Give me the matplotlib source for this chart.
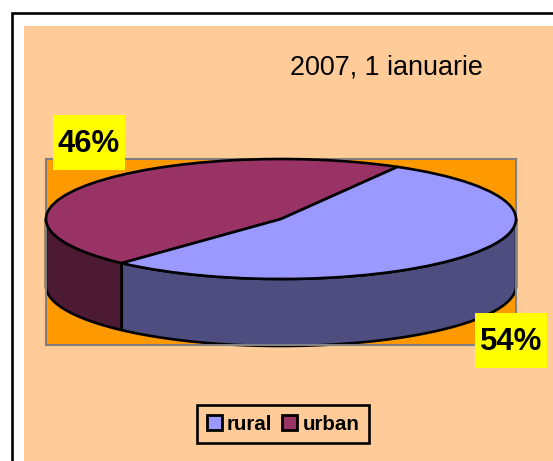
"""
Pie chart with fake 3D depth, population share rural/urban
"""
import numpy as np
import matplotlib
matplotlib.use('Agg')
import matplotlib.pyplot as plt
from matplotlib.patches import Rectangle, Patch

W, H = 553, 461

categories = ['rural', 'urban']
shares = [53.6, 46.4]
colors = ['#9999FF', '#993366']
side_colors = ['#4D4D80', '#4D1A33']
title = '2007, 1 ianuarie'
start_urban = 60.3
depth = 67 / 60

plt.rcParams['font.family'] = ['Liberation Sans', 'DejaVu Sans']


def fx(px):
    return px / W


def fy(py):
    return 1 - py / H


fig = plt.figure(figsize=(W / 100, H / 100), dpi=100, facecolor='white')

# outer frame (runs off the picture right and below) and peach chart area
fig.add_artist(Rectangle((fx(12), fy(480)), fx(560), 467 / H, transform=fig.transFigure,
                         fc='white', ec='black', lw=1.9, zorder=-3))
fig.add_artist(Rectangle((fx(24), fy(461)), fx(529), 435 / H, transform=fig.transFigure,
                         fc='#FFCC99', ec='none', zorder=-2))

# plot area is 470x186 px, one data unit in y = 60 px
ax = fig.add_axes([fx(46), fy(345), 470 / W, 186 / H], facecolor='#FF9900')
for s in ax.spines.values():
    s.set_color('#808080')
    s.set_linewidth(1.5)

# angles come from the shares, urban goes counter clockwise from start_urban
a0 = start_urban
a1 = a0 + shares[1] * 3.6
a2 = a1 + shares[0] * 3.6

# side walls, only the front half (180..360) can be seen
for lo, hi, c in [(max(a0, 180), min(a1, 360), side_colors[1]), (max(a1, 180), min(a2, 360), side_colors[0])]:
    t = np.radians(np.linspace(lo, hi, 80))
    xs = np.concatenate([np.cos(t), np.cos(t[::-1])])
    ys = np.concatenate([np.sin(t), np.sin(t[::-1]) - depth])
    ax.fill(xs, ys, fc=c, ec='black', lw=1.9, clip_on=False, joinstyle='round', zorder=2)

wedges, _ = ax.pie([shares[1], shares[0]], colors=[colors[1], colors[0]], startangle=a0, counterclock=True,
                   wedgeprops={'ec': 'black', 'lw': 1.9, 'clip_on': False, 'zorder': 3}, frame=True)
ax.set_aspect('auto')
ax.set_xlim(-1, 1)
ax.set_ylim(1 - 186 / 60, 1)
ax.set_xticks([])
ax.set_yticks([])

fig.text(fx(386.5), fy(67), title, fontsize=19.4, ha='center', va='center', color='black')

# value labels on yellow boxes
for px, py, share in [(89, 142.5, shares[1]), (511, 340.5, shares[0])]:
    fig.add_artist(Rectangle((fx(px - 36), fy(py + 27.5)), 72 / W, 55 / H, transform=fig.transFigure,
                             fc='#FFFF00', ec='none', zorder=4))
    fig.text(fx(px), fy(py + 1.5), f'{share:.0f}%', fontsize=22.4, fontweight='bold', ha='center', va='center',
             color='black', zorder=5)

handles = [Patch(fc=c, ec='black', lw=2) for c in colors]
leg = fig.legend(handles, categories, ncol=2, loc='center', bbox_to_anchor=(fx(283), fy(424)),
                 prop={'weight': 'bold', 'size': 14.8}, frameon=True, fancybox=False, facecolor='#FFCC99',
                 edgecolor='black', framealpha=1, handlelength=0.72, handleheight=0.72, handletextpad=0.25,
                 columnspacing=0.5, borderpad=0.45, borderaxespad=0)
leg.get_frame().set_linewidth(1.9)

fig.savefig('out.png', dpi=100)
